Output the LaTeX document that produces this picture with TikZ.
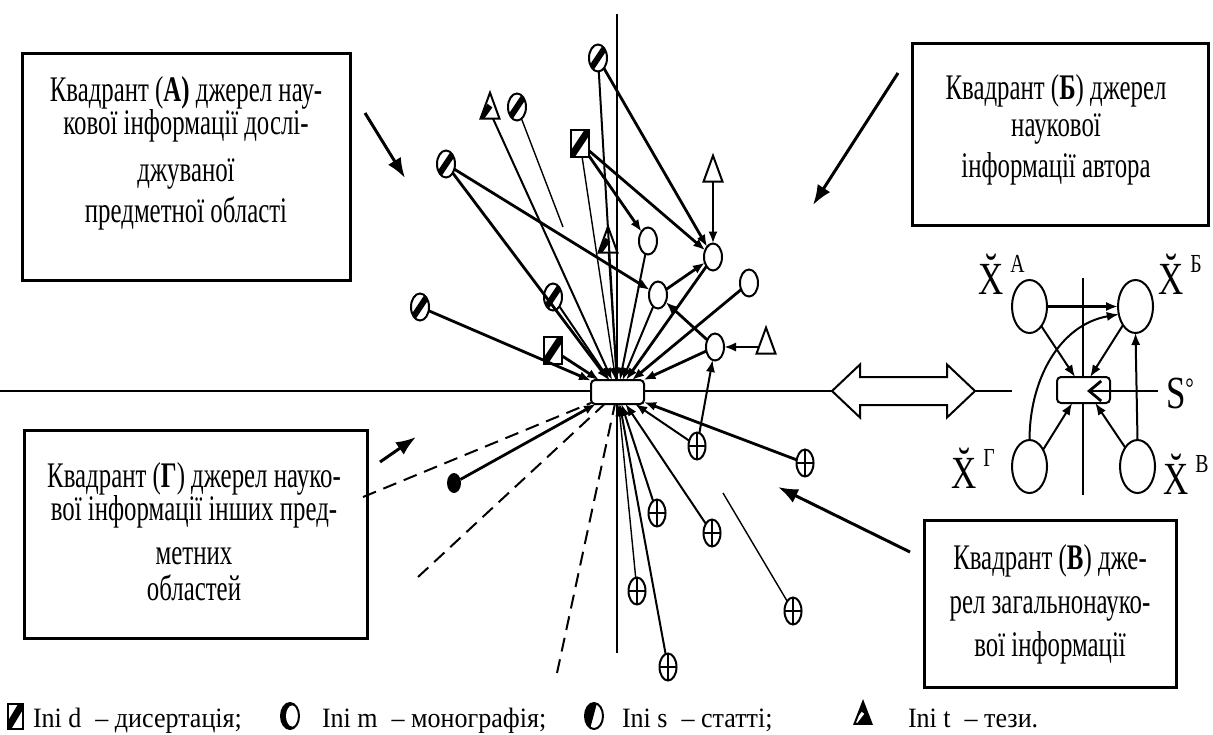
\documentclass[tikz,border=0pt]{standalone}
\usepackage{fontspec}
\setmainfont{Liberation Serif}
\newfontfamily\boxfont{Liberation Serif}[FakeStretch=0.69]
\newfontfamily\legfont{Liberation Serif}[FakeStretch=0.93]
\newfontfamily\symfont{Liberation Serif}[FakeStretch=0.76]
\usetikzlibrary{arrows.meta,shapes.geometric,calc}
\newcommand\suptxt[1]{\kern3.5pt\raisebox{11pt}{\fontsize{13}{13}\selectfont #1}}
\newcommand\brX{X^^^^0306}
\begin{document}
\begin{tikzpicture}[x=0.5pt,y=-0.5pt,
  every node/.style={inner sep=0pt,outer sep=0pt},
  thk/.style={line width=1.4pt},
  med/.style={line width=1pt},
  thn/.style={line width=0.7pt},
  tip/.style={-{Latex[length=6pt,width=4.6pt]}},
  bigtip/.style={line width=1.5pt,-{Latex[length=10pt,width=7.5pt]}},
  dashln/.style={med,dash pattern=on 7pt off 4pt},
  qbox/.style={draw,line width=1.5pt,fill=white},
  qtext/.style={align=center,anchor=north,font={\boxfont\fontsize{18}{16.5}\selectfont\lineskiplimit=-30pt}},
  legtext/.style={anchor=base west,font={\legfont\fontsize{14}{14}\selectfont}},
  xlab/.style={anchor=base west,font={\symfont\fontsize{23}{23}\selectfont}},
  cbox/.style={rectangle,draw,line width=1pt,rounded corners=2pt,fill=white,minimum width=26.5pt,minimum height=12pt},
  oe/.style={ellipse,draw,line width=1pt,fill=white,minimum width=9pt,minimum height=13.5pt},
  hs/.style={oe,path picture={\draw[line width=3pt] (path picture bounding box.north east) -- (path picture bounding box.south west);}},
  hd/.style={rectangle,draw,line width=1pt,fill=white,minimum width=9pt,minimum height=13.5pt,
    path picture={\draw[line width=3.5pt] (path picture bounding box.north east) -- (path picture bounding box.south west);}},
  ot/.style={isosceles triangle,isosceles triangle stretches,rotate=90,draw,line width=1pt,fill=white,minimum width=9.5pt,minimum height=13pt},
  ht/.style={ot,path picture={\draw[line width=3pt] (path picture bounding box.center) -- (path picture bounding box.south west);}},
  pe/.style={oe,minimum width=8.5pt,path picture={\draw[line width=0.8pt] (path picture bounding box.north) -- (path picture bounding box.south) (path picture bounding box.west) -- (path picture bounding box.east);}},
  fe/.style={ellipse,fill=black,minimum width=7pt,minimum height=10pt},
  ie/.style={ellipse,draw,line width=1pt,fill=white,minimum width=17.5pt,minimum height=26.5pt},
  mi/.style={ellipse,draw,line width=1pt,fill=black,minimum width=9pt,minimum height=13pt,
    path picture={\fill[white] ([xshift=1.2pt]path picture bounding box.center) ellipse [x radius=3.2pt,y radius=5.3pt];}},
  si/.style={ellipse,draw,line width=1pt,fill=white,minimum width=9pt,minimum height=13pt,
    path picture={\fill[black] (path picture bounding box.north west) -- ([xshift=1.5pt]path picture bounding box.north) -- ([xshift=-2pt]path picture bounding box.south) -- (path picture bounding box.south west) -- cycle;}},
  ti/.style={isosceles triangle,isosceles triangle stretches,rotate=90,draw,line width=1pt,fill=black,minimum width=8.5pt,minimum height=11pt,
    path picture={\draw[white,line width=1.6pt] (path picture bounding box.center) -- (path picture bounding box.south west);}}
]
\useasboundingbox (0,0) rectangle (1213,734);

% axes of the quadrant field
\draw[med] (0,391) -- (1012,391);
\draw[line width=0.7pt] (617,14) -- (617,653);

% quadrant boxes
\node[qbox,minimum width=164pt,minimum height=113.5pt] (boxA) at (186,166.5) {};
\node[qtext] (txtA) at (186,77) {Квадрант (\textbf{А)} джерел нау-\\кової інформації дослі-\\[7pt]джуваної\\[4pt]предметної області};
\node[qbox,minimum width=148pt,minimum height=91pt] (boxB) at (1060,134) {};
\node[qtext] (txtB) at (1056,75) {Квадрант (\textbf{Б}) джерел\\[2pt]наукової\\[4pt]інформації автора};
\node[qbox,minimum width=171.5pt,minimum height=104pt] (boxG) at (195.5,534) {};
\node[qtext] (txtG) at (194,463) {Квадрант (\textbf{Г}) джерел науко-\\вої інформації інших пред-\\[5.5pt]метних\\[1.5pt]областей};
\node[qbox,minimum width=126pt,minimum height=83.5pt] (boxV) at (1050,603.5) {};
\node[qtext] (txtV) at (1050,545) {Квадрант (\textbf{В}) дже-\\[5.5pt]рел загальнонауко-\\[5pt]вої інформації};

% pointers from the boxes into their quadrants
\coordinate (pa0) at (365,113); \coordinate (pa1) at (405,178);
\coordinate (pb0) at (898,73);  \coordinate (pb1) at (813,205);
\coordinate (pg0) at (380,462); \coordinate (pg1) at (416,437);
\coordinate (pv0) at (910,552); \coordinate (pv1) at (778,487);
\draw[bigtip] (pa0) -- (pa1);
\draw[bigtip] (pb0) -- (pb1);
\draw[bigtip] (pg0) -- (pg1);
\draw[bigtip] (pv0) -- (pv1);

% central object and sources
\node[cbox] (src) at (617.5,392) {};
\node[hs] (s1) at (598,58) {};
\node[hs] (s2) at (517,107) {};
\node[hs] (s3) at (446,164) {};
\node[hs] (s4) at (553,297) {};
\node[hs] (s5) at (420,307) {};
\node[hd] (d1) at (580,143) {};
\node[hd] (d2) at (553,350) {};
\node[ht] (t1) at (490,112) {};
\node[ht] (t2) at (608,246) {};
\node[oe] (c2) at (648,241) {};
\node[oe] (c3) at (713,257) {};
\node[oe] (c4) at (658,295) {};
\node[oe] (c5) at (749,283) {};
\node[oe] (c6) at (715,347) {};
\node[ot] (T1) at (713,175) {};
\node[ot] (T2) at (766,347) {};
\node[pe] (p1) at (697,446) {};
\node[pe] (p2) at (805,463) {};
\node[pe] (p3) at (657,513) {};
\node[pe] (p4) at (712,533) {};
\node[pe] (p5) at (637,591) {};
\node[pe] (p6) at (668,667) {};
\node[pe] (p7) at (793,611) {};
\node[fe] (f1) at (454,483) {};
\coordinate (s2e) at (563,227);
\coordinate (p7e) at (723,493);
\coordinate (g1) at (363,497);
\coordinate (g2) at (418,577);
\coordinate (g3) at (557,673);

% links
\draw[med,tip] (s1) -- (src);
\draw[thk,tip] (s1) -- (c3);
\draw[med,tip] (t1) -- (src);
\draw[thn] (s2) -- (s2e);
\draw[thn,tip] (d1) -- (src);
\draw[thk,tip] (d1) -- (c2);
\draw[thk,tip] (d1) -- (c3);
\draw[thk,tip] (s3) -- (src);
\draw[thk,tip] (s3) -- (c4);
\draw[thn,tip] (t2) -- (src);
\draw[med,tip] (s4) -- (src);
\draw[thk,tip] (d2) -- (src);
\draw[thk,tip] (s5) -- (src);
\draw[med,tip] (c2) -- (src);
\draw[thk,tip] (c3) -- (src);
\draw[med,tip] (c4) -- (src);
\draw[thk,tip] (c4) -- (c3);
\draw[thk,tip] (c5) -- (src);
\draw[thk,tip] (c6) -- (src);
\draw[thk,tip] (c6) -- (c4);
\draw[thk,tip] (T1) -- (c3);
\draw[thk,tip] (T2) -- (c6);
\draw[med,tip] (p1) -- (c6);
\draw[med,tip] (p1) -- (src);
\draw[thk,tip] (p2) -- (src);
\draw[med,tip] (p3) -- (src);
\draw[med,tip] (p4) -- (src);
\draw[thn,tip] (p5) -- (src);
\draw[med,tip] (p6) -- (src);
\draw[thn] (p7) -- (p7e);
\draw[thk,tip] (f1) -- (src);
\draw[dashln] (g1) -- (src);
\draw[dashln] (g2) -- (src);
\draw[dashln] (g3) -- (src);

% double arrow between the field and the scheme
\draw[line width=1pt,fill=white] (832,391) -- (860,364.5) -- (860,377) -- (947,377) -- (947,364.5)
  -- (975,391) -- (947,417.5) -- (947,405) -- (860,405) -- (860,417.5) -- cycle;

% compact scheme
\draw[thn] (1083,278) -- (1083,495);
\node[ie] (eA) at (1029.5,306.5) {};
\node[ie] (eB) at (1135.5,306.5) {};
\node[ie] (eG) at (1029.5,466.5) {};
\node[ie] (eV) at (1137.5,466.5) {};
\node[cbox,minimum height=13pt] (sb) at (1083.5,390) {};
\node[xlab] (lA) at (978,294) {\brX\suptxt{А}};
\node[xlab] (lB) at (1158,294) {\brX\suptxt{Б}};
\node[xlab] (lG) at (951,488) {\brX\suptxt{Г}};
\node[xlab] (lV) at (1163,494) {\brX\suptxt{В}};
\node[xlab] (lS) at (1166,408) {S\raisebox{5.5pt}{\fontsize{14}{14}\selectfont °}};
\coordinate (sS) at (1158,391);
\coordinate (sT) at (1087,391);
\draw[thk,tip] (eA) -- (eB);
\draw[med,tip] (eG.north) to[out=90,in=190] (eB.205);
\draw[med,tip] (eA.-59) -- (sb.123);
\draw[med,tip] (eB.236) -- (sb.63);
\draw[med,tip] (eG.51) -- (sb.229);
\draw[med,tip] (eV.123) -- (sb.-48);
\draw[med,tip] (eV.north) -- (eB.south);
\draw[thk,-{Straight Barb[length=6pt,width=10pt]}] (sS) -- (sT);

% legend
\node[hd,minimum width=7.5pt,minimum height=12.5pt] (lgd) at (15,716) {};
\node[legtext] (lgdt) at (33,727) {Ini d\enspace– дисертація;};
\node[mi] (lgm) at (290,716) {};
\node[legtext] (lgmt) at (322,727) {Ini m\enspace– монографія;};
\node[si] (lgs) at (594,716) {};
\node[legtext] (lgst) at (622,727) {Ini s\enspace– статті;};
\node[ti] (lgt) at (863,718) {};
\node[legtext] (lgtt) at (908,727) {Ini t\enspace– тези.};
\end{tikzpicture}
\end{document}
